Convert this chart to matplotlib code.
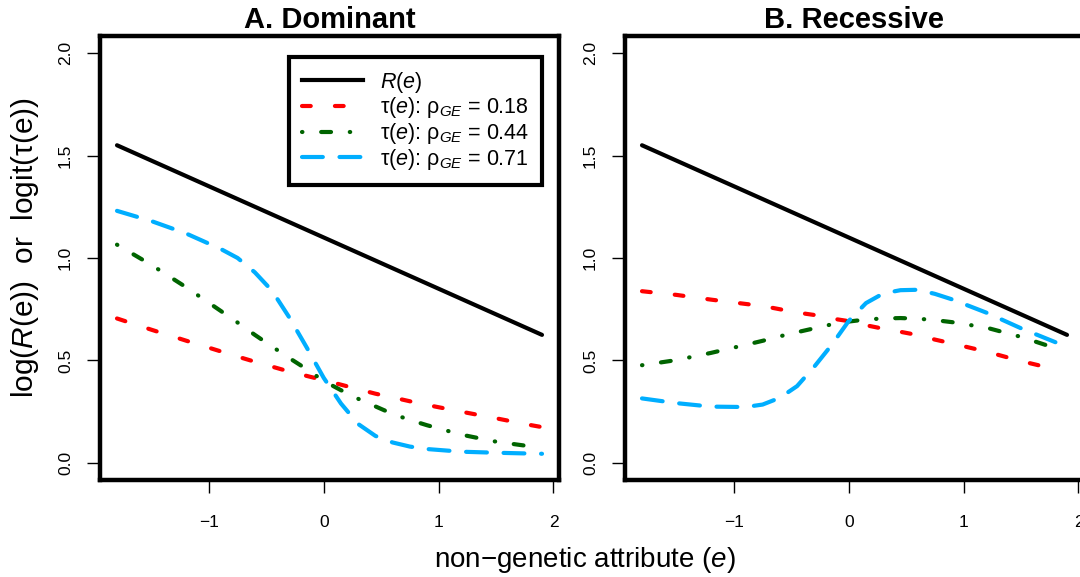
import numpy as np
import matplotlib
matplotlib.use("Agg")
import matplotlib.pyplot as plt
from matplotlib.ticker import FormatStrFormatter
from matplotlib.lines import Line2D

plt.rcParams['font.family'] = ['Liberation Sans', 'DejaVu Sans']
plt.rcParams['mathtext.fontset'] = 'custom'
plt.rcParams['mathtext.rm'] = 'Liberation Sans'
plt.rcParams['mathtext.it'] = 'Liberation Sans:italic'
plt.rcParams['mathtext.bf'] = 'Liberation Sans:bold'
plt.rcParams['lines.scale_dashes'] = False

# --- data ---
e_line = [-1.8, 1.9]
log_R = [1.55, 0.625]

e_grid = [-1.8, -1.5, -1.2, -0.9, -0.75, -0.6, -0.45, -0.3, -0.15, 0.0,
          0.15, 0.3, 0.45, 0.6, 0.75, 0.9, 1.2, 1.5, 1.8, 1.9]

# A. Dominant
dom_018 = [0.705, 0.650, 0.597, 0.545, 0.519, 0.494, 0.470, 0.446, 0.425, 0.404,
           0.382, 0.360, 0.338, 0.320, 0.301, 0.283, 0.250, 0.218, 0.185, 0.175]
dom_044 = [1.065, 0.966, 0.858, 0.743, 0.685, 0.625, 0.568, 0.512, 0.458, 0.400,
           0.355, 0.313, 0.276, 0.239, 0.210, 0.184, 0.138, 0.104, 0.081, 0.075]
dom_071 = [1.230, 1.180, 1.120, 1.045, 1.000, 0.930, 0.840, 0.710, 0.565, 0.415,
           0.290, 0.190, 0.132, 0.100, 0.080, 0.068, 0.055, 0.050, 0.046, 0.045]

# B. Recessive
rec_018 = [0.838, 0.820, 0.797, 0.776, 0.766, 0.750, 0.734, 0.722, 0.705, 0.692,
           0.672, 0.655, 0.640, 0.624, 0.602, 0.583, 0.543, 0.497, 0.457, np.nan]
rec_044 = [0.477, 0.502, 0.537, 0.576, 0.596, 0.618, 0.638, 0.657, 0.676, 0.690,
           0.700, 0.705, 0.707, 0.704, 0.697, 0.687, 0.660, 0.615, 0.560, np.nan]
rec_071 = [0.315, 0.292, 0.275, 0.273, 0.285, 0.318, 0.375, 0.470, 0.575, 0.693,
           0.780, 0.827, 0.843, 0.845, 0.825, 0.798, 0.733, 0.657, 0.589, 0.574]

rho_labels = ["0.18", "0.44", "0.71"]
titles = ["A. Dominant", "B. Recessive"]
x_ticks = [-1, 0, 1, 2]
y_ticks = [0.0, 0.5, 1.0, 1.5, 2.0]

LW = 3.0
tau_styles = [
    dict(color='#FF0000', dashes=(6.3, 17.4)),
    dict(color='#006400', dashes=(0.3, 13.5, 7.1, 13.5)),
    dict(color='#00AEFF', dashes=(15, 12)),
]

W, H = 1080, 577
fig = plt.figure(figsize=(W / 100, H / 100), dpi=100)

def px_axes(left, right, top, bottom):
    return fig.add_axes([left / W, 1 - bottom / H, (right - left) / W, (bottom - top) / H])

axA = px_axes(100, 559, 36, 480)
axB = px_axes(625, 1084, 36, 480)

for ax, title, curves in [(axA, titles[0], [dom_018, dom_044, dom_071]),
                          (axB, titles[1], [rec_018, rec_044, rec_071])]:
    ax.plot(e_line, log_R, color='black', lw=LW, solid_capstyle='round')
    for vals, st in zip(curves, tau_styles):
        ax.plot(e_grid, vals, color=st['color'], lw=LW, dashes=st['dashes'],
                dash_capstyle='round')
    ax.set_xlim(-1.948, 2.048)
    ax.set_ylim(-0.083, 2.083)
    ax.set_xticks(x_ticks)
    ax.set_yticks(y_ticks)
    ax.yaxis.set_major_formatter(FormatStrFormatter('%.1f'))
    ax.tick_params(axis='both', direction='out', length=9.5, width=1.0,
                   labelsize=12.5, color='black')
    ax.tick_params(axis='x', pad=16)
    ax.tick_params(axis='y', pad=10)
    for lab in ax.get_yticklabels():
        lab.set_rotation(90)
        lab.set_va('center')
        lab.set_ha('right')
    for sp in ax.spines.values():
        sp.set_linewidth(3.2)
        sp.set_color('black')
    ax.set_title(title, fontsize=21, fontweight='bold', pad=6)

handles = [Line2D([], [], color='black', lw=LW)]
labels = [r'$R$($e$)']
for st, rho in zip(tau_styles, rho_labels):
    handles.append(Line2D([], [], color=st['color'], lw=LW, dashes=st['dashes'],
                          dash_capstyle='round'))
    labels.append('τ($e$): ρ$_{GE}$ = ' + rho)

leg = axA.legend(handles, labels, loc='upper right', bbox_to_anchor=(0.963, 0.953),
                 borderaxespad=0, fontsize=15.5, handlelength=2.8, handletextpad=0.8,
                 labelspacing=0.03, borderpad=0.6, fancybox=False, framealpha=1,
                 edgecolor='black')
leg.get_frame().set_linewidth(3.0)

fig.text(25 / W, 1 - 248 / H, r'log($R$(e))  or  logit(τ(e))', rotation=90,
         ha='center', va='center', fontsize=21.5)
fig.text(585 / W, 1 - 560 / H, 'non−genetic attribute ($e$)',
         ha='center', va='center', fontsize=20)

fig.savefig("out.png", dpi=100)
